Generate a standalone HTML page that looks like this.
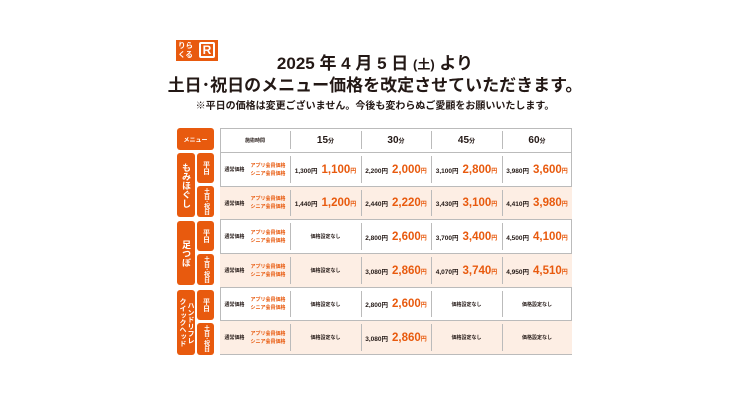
<!DOCTYPE html><html><head><meta charset="utf-8"><style>
*{margin:0;padding:0;box-sizing:border-box}
body{width:750px;height:400px;background:#fff;position:relative;font-family:"Liberation Sans","Noto Sans CJK JP",sans-serif;color:#231815;overflow:hidden}
.a{position:absolute}
.o{background:#e85a0e;color:#fff;border-radius:3px;font-weight:bold;display:flex;align-items:center;justify-content:center;text-align:center}
.v{writing-mode:vertical-rl;white-space:nowrap}
.row{position:absolute;left:220px;width:352px;border-bottom:1px solid #bbb}
.c{position:absolute;top:0;height:100%;display:flex;align-items:center;justify-content:center;white-space:nowrap;font-weight:bold}
.dv{position:absolute;top:3px;bottom:3px;width:1px;background:#bbb}
.s{font-size:6.5px}
.b{font-size:11.5px;color:#e85a0e}
.t{font-size:5px}
.y{font-size:5px;color:#e85a0e;line-height:8px;text-align:left}
</style></head><body>
<div class="a" style="left:176px;top:40px;width:42px;height:21px;background:#e85a0e"></div>
<div class="a" style="left:178px;top:41px;font-size:7.5px;color:#fff;font-weight:bold;line-height:9px">りら<br>くる</div>
<div class="a" style="left:199px;top:42px;width:16px;height:16px;border:2px solid #fff;border-radius:2px;color:#fff;font-weight:bold;font-size:12px;line-height:12px;text-align:center">R</div>
<div class="a" style="left:0;width:750px;top:54px;text-align:center;font-size:17px;font-weight:bold;line-height:20px">2025 年 4 月 5 日 <span style="font-size:13px">(土)</span> より</div>
<div class="a" style="left:0;width:750px;top:76px;text-align:center;font-size:17px;font-weight:bold;line-height:20px">土日･祝日のメニュー価格を改定させていただきます。</div>
<div class="a" style="left:0;width:750px;top:100px;text-align:center;font-size:10px;font-weight:bold;line-height:14px">※平日の価格は変更ございません。今後も変わらぬご愛顧をお願いいたします。</div>

<div class="a o" style="left:177px;top:128px;width:37px;height:22px;font-size:6px">メニュー</div>
<div class="a o v" style="left:177px;top:153px;width:18px;height:64px;font-size:9px;line-height:12px">もみほぐし</div>
<div class="a o v" style="left:177px;top:221px;width:18px;height:64px;font-size:9px;line-height:12px">足つぼ</div>
<div class="a o v" style="left:177px;top:290px;width:18px;height:65px;font-size:7px;line-height:8px">ハンドリフレ<br>クイックヘッド</div>
<div class="a o v" style="left:197px;top:153px;width:17px;height:30px;font-size:7px">平日</div>
<div class="a o v" style="left:197px;top:186px;width:17px;height:31px;font-size:6px;line-height:8px">土日･祝日</div>
<div class="a o v" style="left:197px;top:221px;width:17px;height:30px;font-size:7px">平日</div>
<div class="a o v" style="left:197px;top:254px;width:17px;height:31px;font-size:6px;line-height:8px">土日･祝日</div>
<div class="a o v" style="left:197px;top:290px;width:17px;height:30px;font-size:7px">平日</div>
<div class="a o v" style="left:197px;top:323px;width:17px;height:32px;font-size:6px;line-height:8px">土日･祝日</div>

<div class="a" style="left:220px;top:128px;width:352px;height:227px;border:1px solid #bbb"></div>

<div class="row" style="top:128px;height:25px">
<div class="c t" style="left:0;width:70px">施術時間</div>
<div class="c" style="left:70px;width:71px;font-size:10px">15<span style="font-size:6px">分</span></div>
<div class="c" style="left:141px;width:70px;font-size:10px">30<span style="font-size:6px">分</span></div>
<div class="c" style="left:211px;width:71px;font-size:10px">45<span style="font-size:6px">分</span></div>
<div class="c" style="left:282px;width:70px;font-size:10px">60<span style="font-size:6px">分</span></div>
<div class="dv" style="left:70px"></div><div class="dv" style="left:141px"></div><div class="dv" style="left:211px"></div><div class="dv" style="left:282px"></div>
</div>

<div class="row" style="top:153px;height:34px"><div class="c" style="left:0;width:70px;gap:6px"><span class="t">通常価格</span><span class="y">アプリ会員価格<br>シニア会員価格</span></div>
<div class="c" style="left:70px;width:71px;gap:4px"><span class="s">1,300円</span><span class="b">1,100<small style="font-size:6px">円</small></span></div>
<div class="c" style="left:141px;width:70px;gap:4px"><span class="s">2,200円</span><span class="b">2,000<small style="font-size:6px">円</small></span></div>
<div class="c" style="left:211px;width:71px;gap:4px"><span class="s">3,100円</span><span class="b">2,800<small style="font-size:6px">円</small></span></div>
<div class="c" style="left:282px;width:70px;gap:4px"><span class="s">3,980円</span><span class="b">3,600<small style="font-size:6px">円</small></span></div>
<div class="dv" style="left:70px"></div><div class="dv" style="left:141px"></div><div class="dv" style="left:211px"></div><div class="dv" style="left:282px"></div></div>

<div class="row" style="top:187px;height:33px;background:#fdeee4"><div class="c" style="left:0;width:70px;gap:6px"><span class="t">通常価格</span><span class="y">アプリ会員価格<br>シニア会員価格</span></div>
<div class="c" style="left:70px;width:71px;gap:4px"><span class="s">1,440円</span><span class="b">1,200<small style="font-size:6px">円</small></span></div>
<div class="c" style="left:141px;width:70px;gap:4px"><span class="s">2,440円</span><span class="b">2,220<small style="font-size:6px">円</small></span></div>
<div class="c" style="left:211px;width:71px;gap:4px"><span class="s">3,430円</span><span class="b">3,100<small style="font-size:6px">円</small></span></div>
<div class="c" style="left:282px;width:70px;gap:4px"><span class="s">4,410円</span><span class="b">3,980<small style="font-size:6px">円</small></span></div>
<div class="dv" style="left:70px"></div><div class="dv" style="left:141px"></div><div class="dv" style="left:211px"></div><div class="dv" style="left:282px"></div></div>

<div class="row" style="top:220px;height:34px"><div class="c" style="left:0;width:70px;gap:6px"><span class="t">通常価格</span><span class="y">アプリ会員価格<br>シニア会員価格</span></div>
<div class="c t" style="left:70px;width:71px">価格設定なし</div>
<div class="c" style="left:141px;width:70px;gap:4px"><span class="s">2,800円</span><span class="b">2,600<small style="font-size:6px">円</small></span></div>
<div class="c" style="left:211px;width:71px;gap:4px"><span class="s">3,700円</span><span class="b">3,400<small style="font-size:6px">円</small></span></div>
<div class="c" style="left:282px;width:70px;gap:4px"><span class="s">4,500円</span><span class="b">4,100<small style="font-size:6px">円</small></span></div>
<div class="dv" style="left:70px"></div><div class="dv" style="left:141px"></div><div class="dv" style="left:211px"></div><div class="dv" style="left:282px"></div></div>

<div class="row" style="top:254px;height:34px;background:#fdeee4"><div class="c" style="left:0;width:70px;gap:6px"><span class="t">通常価格</span><span class="y">アプリ会員価格<br>シニア会員価格</span></div>
<div class="c t" style="left:70px;width:71px">価格設定なし</div>
<div class="c" style="left:141px;width:70px;gap:4px"><span class="s">3,080円</span><span class="b">2,860<small style="font-size:6px">円</small></span></div>
<div class="c" style="left:211px;width:71px;gap:4px"><span class="s">4,070円</span><span class="b">3,740<small style="font-size:6px">円</small></span></div>
<div class="c" style="left:282px;width:70px;gap:4px"><span class="s">4,950円</span><span class="b">4,510<small style="font-size:6px">円</small></span></div>
<div class="dv" style="left:70px"></div><div class="dv" style="left:141px"></div><div class="dv" style="left:211px"></div><div class="dv" style="left:282px"></div></div>

<div class="row" style="top:288px;height:33px"><div class="c" style="left:0;width:70px;gap:6px"><span class="t">通常価格</span><span class="y">アプリ会員価格<br>シニア会員価格</span></div>
<div class="c t" style="left:70px;width:71px">価格設定なし</div>
<div class="c" style="left:141px;width:70px;gap:4px"><span class="s">2,800円</span><span class="b">2,600<small style="font-size:6px">円</small></span></div>
<div class="c t" style="left:211px;width:71px">価格設定なし</div>
<div class="c t" style="left:282px;width:70px">価格設定なし</div>
<div class="dv" style="left:70px"></div><div class="dv" style="left:141px"></div><div class="dv" style="left:211px"></div><div class="dv" style="left:282px"></div></div>

<div class="row" style="top:321px;height:34px;background:#fdeee4"><div class="c" style="left:0;width:70px;gap:6px"><span class="t">通常価格</span><span class="y">アプリ会員価格<br>シニア会員価格</span></div>
<div class="c t" style="left:70px;width:71px">価格設定なし</div>
<div class="c" style="left:141px;width:70px;gap:4px"><span class="s">3,080円</span><span class="b">2,860<small style="font-size:6px">円</small></span></div>
<div class="c t" style="left:211px;width:71px">価格設定なし</div>
<div class="c t" style="left:282px;width:70px">価格設定なし</div>
<div class="dv" style="left:70px"></div><div class="dv" style="left:141px"></div><div class="dv" style="left:211px"></div><div class="dv" style="left:282px"></div></div>
</body></html>
